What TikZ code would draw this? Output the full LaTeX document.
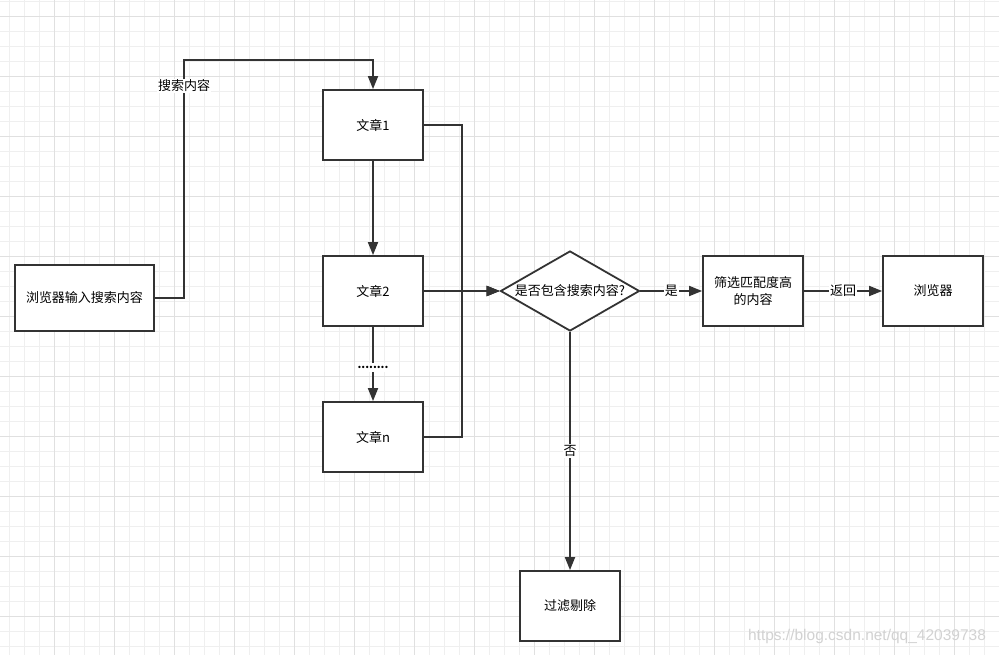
\documentclass[tikz,border=0pt]{standalone}
\usepackage{fontspec}
\setmainfont{Noto Sans CJK SC}
\newfontfamily\wmfont{Liberation Sans}
\usepackage{tikz}
\usetikzlibrary{arrows.meta}
\usetikzlibrary{shapes.geometric}
\definecolor{linegray}{HTML}{333333}
\definecolor{gridminor}{HTML}{EFEFEF}
\definecolor{gridmajor}{HTML}{E0E0E0}
\definecolor{wmgray}{HTML}{D2D2D2}

\begin{document}
\begin{tikzpicture}[x=1pt,y=-1pt,
    every node/.style={font=\fontsize{13}{17}\selectfont, text=black},
    box/.style={draw=linegray, line width=1.8pt, fill=white, minimum width=100pt, minimum height=70pt, inner sep=0pt},
    lbl/.style={fill=white, inner sep=1pt},
    >={Triangle[length=13pt,width=10pt]},
    every path/.style={line width=1.8pt}]
      \useasboundingbox (0,0) rectangle (999,655);
      % grid
      \fill[white] (0,0) rectangle (999,655);
      \foreach \i in {0,...,66} {
        \draw[gridminor, line width=0.9pt] ({9.3+15*\i},0) -- ({9.3+15*\i},655);
      }
      \foreach \i in {0,...,43} {
        \draw[gridminor, line width=0.9pt] (0,{1.7+15*\i}) -- (999,{1.7+15*\i});
      }
      \foreach \i in {0,...,16} {
        \draw[gridmajor, line width=0.9pt] ({-5.7+60*\i},0) -- ({-5.7+60*\i},655);
      }
      \foreach \i in {0,...,10} {
        \draw[gridmajor, line width=0.9pt] (0,{16.7+60*\i}) -- (999,{16.7+60*\i});
      }
      % nodes
      \node[box, minimum width=139pt, minimum height=66pt] (input) at (84.5,298) {浏览器输入搜索内容};
      \node[box] (a1) at (373,125) {文章1};
      \node[box] (a2) at (373,291) {文章2};
      \node[box] (an) at (373,437) {文章n};
      \node[diamond, draw=linegray, line width=1.8pt, fill=white, minimum width=139pt, minimum height=80pt, inner sep=0pt,
            label={center:是否包含搜索内容?}] (q) at (570,291) {};
      \node[box, align=center] (sel) at (753,291) {筛选匹配度高\\的内容};
      \node[box] (br) at (933,291) {浏览器};
      \node[box] (flt) at (570,606) {过滤剔除};
      \coordinate (c1) at (184,60);
      \coordinate (j1) at (462,125);
      \coordinate (j2) at (462,437);
      % connectors
      \draw [->, linegray] (input) -| (c1) -| (a1);
      \node[lbl] (search) at (184,86) {搜索内容};
      \draw [->, linegray] (a2) -- node[lbl, pos=0.55, inner sep=3pt] (dots) {\fontsize{11}{13}\selectfont\textbf{........}} (an);
      \draw [->, linegray] (a1) -- (a2);
      \draw [->, linegray] (a1) -- (j1) |- (q);
      \draw [->, linegray] (an) -- (j2) |- (q);
      \draw [->, linegray] (a2) -- (q);
      \draw [->, linegray] (q) -- node[lbl] (yes) {是} (sel);
      \draw [->, linegray] (sel) -- node[lbl] (ret) {返回} (br);
      \draw [->, linegray] (q) -- node[lbl] (no) {否} (flt);
      % watermark
      \node[text=wmgray, font=\wmfont\fontsize{15.5}{18}\selectfont] (wm) at (867,636) {https://blog.csdn.net/qq\_42039738};
    \end{tikzpicture}
\end{document}
